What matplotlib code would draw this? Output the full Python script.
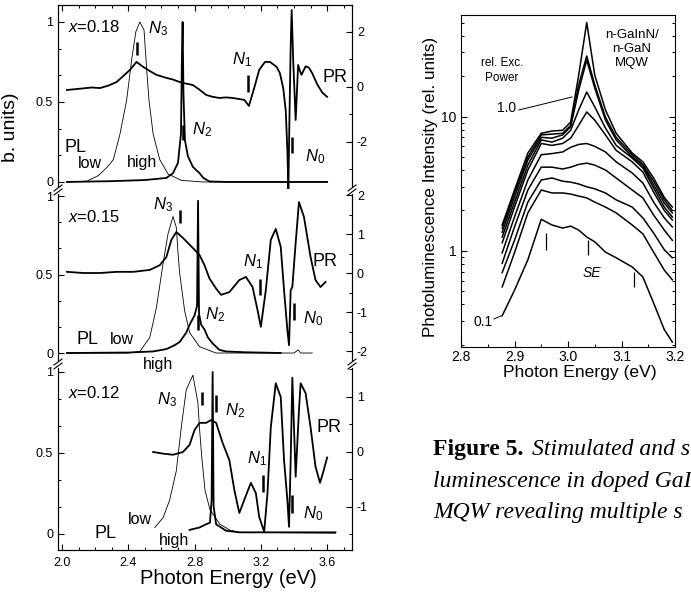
import matplotlib
matplotlib.use("Agg")
import matplotlib.pyplot as plt
from matplotlib.ticker import (MultipleLocator, AutoMinorLocator, FormatStrFormatter,
                               NullFormatter, LogLocator)
from matplotlib.lines import Line2D

plt.rcParams["font.family"] = ["Liberation Sans", "DejaVu Sans"]
plt.rcParams["mathtext.fontset"] = "custom"
plt.rcParams["mathtext.rm"] = "Liberation Sans"
plt.rcParams["mathtext.it"] = "Liberation Sans:italic"
plt.rcParams["axes.unicode_minus"] = False
plt.rcParams["axes.linewidth"] = 0.8

# ---------------- left figure data (Photon energy in eV) ----------------
# x = 0.18
E_pr18 = [2.03, 2.08, 2.13, 2.18, 2.23, 2.28, 2.33, 2.37, 2.41, 2.45, 2.49, 2.53, 2.57, 2.63, 2.67,
          2.71, 2.75, 2.79, 2.83, 2.87, 2.91, 2.95, 2.99, 3.03, 3.07, 3.10, 3.128, 3.165, 3.19, 3.225,
          3.255, 3.295, 3.315, 3.335, 3.35, 3.36, 3.366, 3.373, 3.38, 3.386, 3.395, 3.41, 3.425, 3.435,
          3.445, 3.47, 3.49, 3.51, 3.54, 3.57, 3.60]
PR18 = [-0.11, -0.08, -0.05, -0.02, -0.04, 0.05, 0.18, 0.40, 0.62, 0.91, 0.73, 0.58, 0.44, 0.33, 0.27,
        0.18, 0.12, 0.07, -0.10, -0.29, -0.36, -0.40, -0.38, -0.40, -0.44, -0.47, -0.69, 0.07, 0.62, 0.91,
        0.91, 0.73, 0.50, -0.04, -0.84, -2.30, -3.70, -1.00, 1.50, 2.80, 1.00, -1.20, 0.80, 0.60,
        0.44, 0.75, 0.70, 0.50, 0.10, -0.20, -0.36]
E_low18 = [2.03, 2.15, 2.22, 2.28, 2.31, 2.35, 2.39, 2.42, 2.446, 2.47, 2.495, 2.51, 2.525, 2.55, 2.59,
           2.64, 2.72, 2.85, 3.60]
PL_low18 = [0.0, 0.005, 0.04, 0.10, 0.14, 0.30, 0.51, 0.76, 0.94, 1.0, 0.95, 0.72, 0.51, 0.30, 0.14,
            0.05, 0.01, 0.0, 0.0]
E_high18 = [2.03, 2.30, 2.50, 2.63, 2.67, 2.70, 2.718, 2.724, 2.728, 2.733, 2.742, 2.76, 2.79, 2.83,
            2.853, 2.89, 3.00, 3.60]
PL_high18 = [0.0, 0.005, 0.012, 0.025, 0.055, 0.12, 0.30, 0.80, 1.0, 0.55, 0.26, 0.16, 0.094, 0.055,
             0.025, 0.003, 0.0, 0.0]
marks18_E = [2.45, 2.728, 3.122, 3.388]
marks18_lo = [0.794, 0.263, 0.5625, 0.181]
marks18_hi = [0.875, 0.356, 0.669, 0.281]

# x = 0.15
E_pr15 = [2.03, 2.13, 2.23, 2.33, 2.43, 2.53, 2.59, 2.63, 2.66, 2.69, 2.73, 2.79, 2.83, 2.86, 2.89,
          2.93, 2.96, 3.01, 3.07, 3.11, 3.15, 3.18, 3.20, 3.23, 3.26, 3.29, 3.32, 3.34, 3.36, 3.37,
          3.38, 3.39, 3.41, 3.43, 3.46, 3.50, 3.53, 3.56, 3.59]
PR15 = [0.03, 0.0, 0.0, 0.03, 0.03, 0.08, 0.20, 0.41, 0.85, 1.05, 0.90, 0.64, 0.46, 0.20, -0.14,
        -0.40, -0.56, -0.49, -0.18, -0.10, -0.36, -0.95, -1.38, -0.44, 0.85, 1.13, 0.67, -0.44, -1.46,
        -1.85, -0.44, -0.36, 0.77, 1.82, 1.44, 0.41, -0.18, -0.36, -0.23]
E_low15 = [2.03, 2.40, 2.47, 2.53, 2.57, 2.61, 2.64, 2.67, 2.69, 2.70, 2.71, 2.74, 2.77, 2.83, 2.93,
           3.40, 3.425, 3.44, 3.51]
PL_low15 = [0.0, 0.0, 0.01, 0.10, 0.29, 0.57, 0.76, 0.87, 0.80, 0.64, 0.51, 0.27, 0.13, 0.04, 0.0,
            0.0, 0.02, 0.0, 0.0]
E_high15 = [2.03, 2.40, 2.55, 2.63, 2.68, 2.71, 2.75, 2.77, 2.80, 2.815, 2.821, 2.827, 2.84, 2.86,
            2.88, 2.91, 2.95, 2.99, 3.10, 3.32]
PL_high15 = [0.0, 0.003, 0.01, 0.025, 0.05, 0.07, 0.13, 0.18, 0.24, 0.30, 0.97, 0.25, 0.18, 0.15,
             0.10, 0.06, 0.02, 0.01, 0.005, 0.0]
marks15_E = [2.712, 2.82, 3.195, 3.40]
marks15_lo = [0.828, 0.146, 0.369, 0.21]
marks15_hi = [0.911, 0.242, 0.471, 0.318]

# x = 0.12
E_pr12 = [2.55, 2.61, 2.67, 2.73, 2.77, 2.80, 2.83, 2.87, 2.90, 2.93, 2.97, 3.01, 3.04, 3.07, 3.10,
          3.14, 3.17, 3.19, 3.22, 3.24, 3.26, 3.29, 3.32, 3.34, 3.36, 3.37, 3.38, 3.39, 3.40, 3.41,
          3.43, 3.44, 3.47, 3.50, 3.53, 3.557, 3.575, 3.60]
PR12 = [0.0, -0.03, -0.05, 0.0, 0.13, 0.40, 0.53, 0.53, 0.58, 0.53, 0.16, -0.15, -0.69, -1.11, -0.87,
        -0.56, -0.75, -1.18, -1.45, -0.75, 0.45, 1.25, 1.0, -0.15, -0.87, -1.36, -0.15, 1.35, 0.45,
        -0.45, 0.76, 1.25, 1.07, 0.45, -0.27, -0.56, -0.38, -0.10]
E_low12 = [2.56, 2.61, 2.65, 2.69, 2.72, 2.75, 2.79, 2.82, 2.83, 2.843, 2.863, 2.893, 2.953, 3.01,
           3.07, 3.65]
PL_low12 = [0.04, 0.10, 0.21, 0.39, 0.66, 0.89, 0.98, 0.81, 0.65, 0.48, 0.27, 0.15, 0.06, 0.025,
            0.01, 0.005]
E_high12 = [2.77, 2.83, 2.87, 2.893, 2.903, 2.909, 2.915, 2.93, 2.99, 3.07, 3.65]
PL_high12 = [0.025, 0.04, 0.06, 0.07, 0.21, 1.0, 0.17, 0.06, 0.02, 0.01, 0.01]
marks12_E = [2.845, 2.929, 3.213, 3.388]
marks12_lo = [0.796, 0.753, 0.259, 0.13]
marks12_hi = [0.877, 0.858, 0.364, 0.241]

# ---------------- right figure data ----------------
E_mqw = [2.877, 2.90, 2.925, 2.95, 2.97, 2.99, 3.005, 3.02, 3.035, 3.05, 3.07, 3.09, 3.12, 3.14,
         3.16, 3.18, 3.195]
I01 = [0.33, 0.51, 0.86, 1.72, 1.56, 1.48, 1.53, 1.43, 1.27, 1.17, 0.98, 0.89, 0.76, 0.64, 0.41, 0.26, 0.21]
I02 = [0.54, 0.97, 1.92, 2.84, 2.70, 2.70, 2.65, 2.56, 2.48, 2.31, 2.12, 1.92, 1.56, 1.34, 0.98, 0.72, 0.61]
I03 = [0.69, 1.20, 2.31, 3.37, 3.49, 3.30, 3.25, 3.15, 3.00, 2.90, 2.70, 2.40, 2.12, 1.76, 1.36, 1.02, 0.89]
I04 = [0.81, 1.51, 2.84, 4.20, 4.20, 4.07, 4.20, 4.40, 4.50, 4.35, 4.00, 3.49, 2.84, 2.48, 1.85, 1.43, 1.20]
I05 = [0.97, 1.79, 3.37, 5.20, 5.30, 5.45, 5.90, 6.20, 6.30, 6.00, 5.45, 4.60, 3.80, 3.20, 2.31, 1.76, 1.51]
I06 = [1.15, 2.12, 4.00, 6.30, 6.10, 6.30, 6.90, 8.60, 10.8, 9.40, 7.30, 5.60, 4.60, 3.86, 2.74, 2.00, 1.70]
I07 = [1.27, 2.31, 4.35, 6.70, 6.45, 6.90, 7.90, 11.2, 15.2, 11.8, 8.20, 6.10, 4.90, 4.14, 2.94, 2.12, 1.79]
I08 = [1.38, 2.52, 4.74, 7.00, 6.90, 7.30, 8.40, 15.7, 26.3, 16.3, 9.40, 6.70, 5.00, 4.30, 3.10, 2.27, 1.92]
I09 = [1.48, 2.70, 5.00, 7.30, 7.40, 7.50, 8.60, 17.2, 28.2, 17.2, 9.90, 7.00, 5.20, 4.40, 3.30, 2.40, 2.00]
I10 = [1.56, 2.84, 5.35, 7.50, 7.80, 7.90, 9.10, 20.3, 50.0, 20.3, 11.2, 7.50, 5.35, 4.60, 3.49, 2.50, 2.12]
mqw_curves = [I01, I02, I03, I04, I05, I06, I07, I08, I09, I10]
se_E = [2.958, 3.037, 3.123]
se_lo = [1.02, 0.93, 0.54]
se_hi = [1.36, 1.21, 0.70]

# ---------------- figure ----------------
W, H = 691, 592
fig = plt.figure(figsize=(W / 100, H / 100), dpi=100)


def rect(l, t, r, b):
    return [l / W, 1 - b / H, (r - l) / W, (b - t) / H]


def ftext(px, py, s, **kw):
    kw.setdefault("ha", "left")
    kw.setdefault("va", "center")
    return fig.text(px / W, 1 - py / H, s, **kw)


def fline(xs, ys, **kw):
    fig.add_artist(Line2D([x / W for x in xs], [1 - y / H for y in ys],
                          transform=fig.transFigure, **kw))


panels = [
    dict(box=(58, 5, 352, 189), ylim=(-0.044, 1.106), rlim=(-3.71, 2.98), rt=[-2, 0, 2], rmin=1,
         pos="top", pr=(E_pr18, PR18), low=(E_low18, PL_low18), high=(E_high18, PL_high18),
         marks=(marks18_E, marks18_lo, marks18_hi)),
    dict(box=(58, 189, 352, 364), ylim=(-0.07, 1.045), rlim=(-2.333, 2.154), rt=[-2, -1, 0, 1, 2],
         rmin=0.5, pos="mid", pr=(E_pr15, PR15), low=(E_low15, PL_low15), high=(E_high15, PL_high15),
         marks=(marks15_E, marks15_lo, marks15_hi)),
    dict(box=(58, 364, 352, 550), ylim=(-0.099, 1.049), rlim=(-1.782, 1.6), rt=[-1, 0, 1], rmin=0.5,
         pos="bot", pr=(E_pr12, PR12), low=(E_low12, PL_low12), high=(E_high12, PL_high12),
         marks=(marks12_E, marks12_lo, marks12_hi)),
]

for p in panels:
    ax = fig.add_axes(rect(*p["box"]))
    ax.set_xlim(1.976, 3.75)
    ax.set_ylim(*p["ylim"])
    ax.plot(*p["low"], color="k", lw=0.6)
    ax.plot(*p["high"], color="k", lw=1.3)
    ax.vlines(p["marks"][0], p["marks"][1], p["marks"][2], color="k", lw=1.8)
    axr = ax.twinx()
    axr.set_ylim(*p["rlim"])
    axr.plot(*p["pr"], color="k", lw=1.3)
    for a in (ax, axr):
        a.spines["top"].set_visible(p["pos"] == "top")
        a.spines["bottom"].set_visible(p["pos"] == "bot")
        a.patch.set_visible(False)
    ax.xaxis.set_major_locator(MultipleLocator(0.4))
    ax.xaxis.set_minor_locator(MultipleLocator(0.1))
    ax.xaxis.set_major_formatter(FormatStrFormatter("%.1f"))
    ax.tick_params(axis="x", which="both", direction="in", top=(p["pos"] == "top"),
                   bottom=(p["pos"] == "bot"), labelbottom=(p["pos"] == "bot"),
                   labeltop=False, labelsize=9, pad=5)
    ax.set_yticks([0, 0.5, 1])
    ax.set_yticklabels(["0", "0.5", "1"])
    ax.yaxis.set_minor_locator(AutoMinorLocator(3))
    ax.tick_params(axis="y", which="both", direction="in", left=True, right=False, labelsize=9)
    axr.set_yticks(p["rt"])
    axr.set_yticklabels([str(t) for t in p["rt"]])
    axr.yaxis.set_minor_locator(MultipleLocator(p["rmin"]))
    axr.tick_params(axis="y", which="both", direction="in", right=True, left=False, labelsize=9)
    for a in (ax, axr):
        a.tick_params(which="major", length=4, width=0.8)
        a.tick_params(which="minor", length=2.2, width=0.7)

# break marks on the left and right spines
for bx in (58, 352):
    for by in (190, 364):
        fline([bx, bx], [by - 2, by + 2], color="white", lw=2.0)
        for d in (-2.0, 2.0):
            fline([bx - 4, bx + 4], [by + d + 3, by + d - 3], color="k", lw=0.8)

# left panel labels
lab = dict(size=12)
big = dict(size=13)
ftext(68, 27, "$x$=0.18", **lab)
ftext(148, 29, "$N_3$", **lab)
ftext(322, 77, "PR", **big)
ftext(65, 148, "PL", **big)
ftext(78, 163, "low", size=11.5)
ftext(127, 163, "high", size=11.5)
ftext(192, 130, "$N_2$", **lab)
ftext(232, 60, "$N_1$", **lab)
ftext(305, 157, "$N_0$", **lab)

ftext(68, 217, "$x$=0.15", **lab)
ftext(153, 205, "$N_3$", **lab)
ftext(313, 262, "PR", **big)
ftext(243, 262, "$N_1$", **lab)
ftext(205, 315, "$N_2$", **lab)
ftext(303, 319, "$N_0$", **lab)
ftext(76, 339, "PL", **big)
ftext(110, 339, "low", size=11.5)
ftext(143, 365, "high", size=11.5)

ftext(68, 393, "$x$=0.12", **lab)
ftext(157, 400, "$N_3$", **lab)
ftext(225, 411, "$N_2$", **lab)
ftext(317, 428, "PR", **big)
ftext(247, 459, "$N_1$", **lab)
ftext(303, 514, "$N_0$", **lab)
ftext(94, 533, "PL", **big)
ftext(128, 520, "low", size=11.5)
ftext(159, 540, "high", size=11.5)

ftext(228, 578, "Photon Energy (eV)", size=14.5, ha="center")
ftext(11, 127, "b. units)", size=14, rotation=90, ha="center")

# ---------------- right panel ----------------
ax2 = fig.add_axes(rect(461, 15, 675, 347))
ax2.set_yscale("log")
ax2.set_xlim(2.8, 3.2)
ax2.set_ylim(0.193, 56.9)
for I in mqw_curves:
    ax2.plot(E_mqw, I, color="k", lw=1.1)
ax2.vlines(se_E, se_lo, se_hi, color="k", lw=0.9)
ax2.set_xticks([2.8, 2.9, 3.0, 3.1, 3.2])
ax2.xaxis.set_major_formatter(FormatStrFormatter("%.1f"))
ax2.xaxis.set_minor_locator(MultipleLocator(0.05))
ax2.set_yticks([1, 10])
ax2.set_yticklabels(["1", "10"])
ax2.yaxis.set_minor_locator(LogLocator(base=10, subs=range(2, 10)))
ax2.yaxis.set_minor_formatter(NullFormatter())
ax2.tick_params(which="both", direction="in", right=True, top=False, labelsize=10)
ax2.tick_params(axis="x", pad=2)
ax2.tick_params(which="major", length=4, width=0.8)
ax2.tick_params(which="minor", length=2.2, width=0.7)

ftext(502, 63, "rel. Exc.", size=8.5, ha="center")
ftext(502, 78, "Power", size=8.5, ha="center")
ftext(632, 35, "n-GaInN/", size=9.5, ha="center")
ftext(632, 49, "n-GaN", size=9.5, ha="center")
ftext(632, 63, "MQW", size=9.5, ha="center")
ftext(497, 108, "1.0", size=10)
fline([519, 572], [110, 97], color="k", lw=0.7)
ftext(473, 322, "0.1", size=10)
fline([494, 502], [319, 315.5], color="k", lw=0.7)
ftext(592, 273, "SE", size=10, style="italic", ha="center")
ftext(580, 372, "Photon Energy (eV)", size=12.6, ha="center")
ftext(431, 187, "Photoluminescence Intensity (rel. units)", size=12.3, rotation=90, ha="center")

# ---------------- caption (the part visible within the picture) ----------------
cap = dict(family="Liberation Serif", size=17, va="baseline")
ftext(433, 455, "Figure 5.", weight="bold", **cap)
ftext(532, 455, "Stimulated and s", style="italic", **cap)
ftext(433, 487, "luminescence in doped GaI", style="italic", **cap)
ftext(433, 518, "MQW revealing multiple s", style="italic", **cap)

fig.savefig("out.png", dpi=100)
